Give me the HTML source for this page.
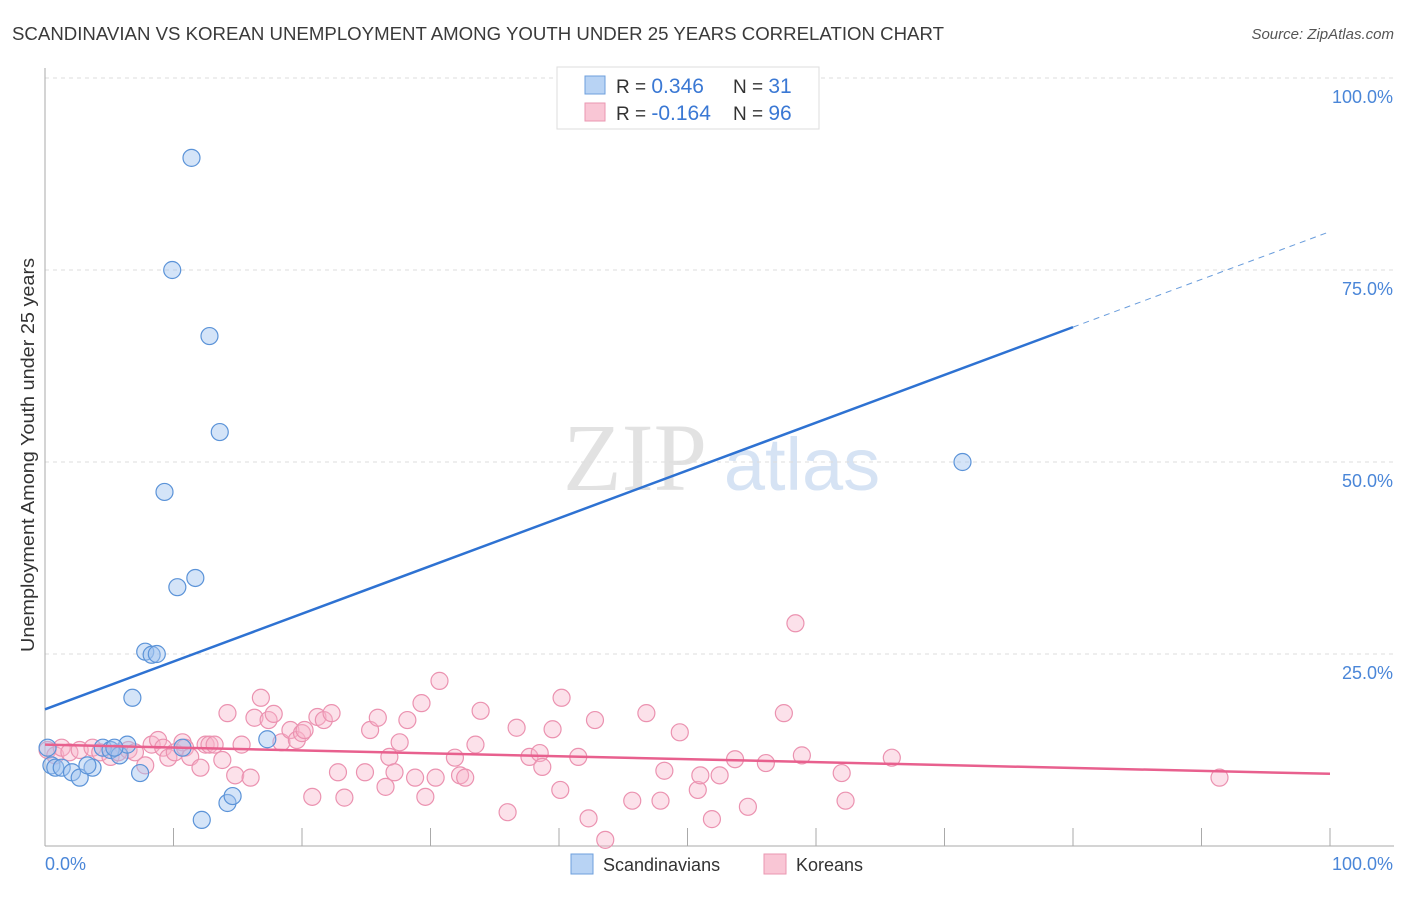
<!DOCTYPE html>
<html><head><meta charset="utf-8"><style>
body{margin:0;background:#fff;font-family:"Liberation Sans",sans-serif}
</style></head><body>
<svg id="chart" width="1406" height="892" xmlns="http://www.w3.org/2000/svg">
<text x="12" y="40" font-size="18" fill="#3a3a3a" textLength="932" lengthAdjust="spacingAndGlyphs">SCANDINAVIAN VS KOREAN UNEMPLOYMENT AMONG YOUTH UNDER 25 YEARS CORRELATION CHART</text>
<text x="1394" y="39" font-size="15" fill="#555" font-style="italic" text-anchor="end">Source: ZipAtlas.com</text>
<text x="635" y="490" font-size="96" fill="#e2e2e2" font-family="Liberation Serif,serif" text-anchor="middle">ZIP</text>
<text x="802" y="490" font-size="74" fill="#d6e3f4" text-anchor="middle">atlas</text>
<g id="grid"></g>
<g id="axes"></g>
<g id="marks"></g>
<text transform="translate(34,455) rotate(-90)" font-size="18" fill="#333" text-anchor="middle" textLength="394" lengthAdjust="spacingAndGlyphs">Unemployment Among Youth under 25 years</text>
<text x="45" y="870" font-size="18" fill="#4a86d8">0.0%</text>
<text x="1393" y="870" font-size="18" fill="#4a86d8" text-anchor="end">100.0%</text>
<g>
<rect x="557" y="67" width="262" height="62" fill="#fff" stroke="#ddd"/>
<rect x="585" y="76" width="20" height="18" fill="#b8d3f4" stroke="#6e9fdc"/>
<rect x="585" y="103" width="20" height="18" fill="#f9c6d5" stroke="#ea97b1"/>
<text x="616" y="93" font-size="19" fill="#333">R = <tspan fill="#3a78d4" font-size="21">0.346</tspan></text>
<text x="733" y="93" font-size="19" fill="#333">N = <tspan fill="#3a78d4" font-size="21">31</tspan></text>
<text x="616" y="120" font-size="19" fill="#333">R = <tspan fill="#3a78d4" font-size="21">-0.164</tspan></text>
<text x="733" y="120" font-size="19" fill="#333">N = <tspan fill="#3a78d4" font-size="21">96</tspan></text>
</g>
<g>
<rect x="571" y="854" width="22" height="20" fill="#b8d3f4" stroke="#6e9fdc"/>
<text x="603" y="871" font-size="18" fill="#333">Scandinavians</text>
<rect x="764" y="854" width="22" height="20" fill="#f9c6d5" stroke="#ea97b1"/>
<text x="796" y="871" font-size="18" fill="#333">Koreans</text>
</g>
</svg>
<script>
const yTicks=[100,75,50,25];
const yTickLabels=["100.0%","75.0%","50.0%","25.0%"];
const xTicks=[10,20,30,40,50,60,70,80,90,100];
const blueX=[11.4,9.9,12.8,13.6,9.3,11.7,10.3,7.8,8.3,8.7,6.8,17.3,10.7,14.2,14.6,12.2,71.4,0.2,0.5,0.8,1.3,2.1,2.7,3.7,3.3,4.5,5.1,5.8,6.4,7.4,5.4];
const blueY=[89.6,75.0,66.4,53.9,46.1,34.9,33.7,25.3,24.9,25.0,19.3,13.9,12.8,5.6,6.5,3.4,50.0,12.8,10.5,10.2,10.2,9.6,8.9,10.2,10.5,12.8,12.5,11.8,13.2,9.5,12.8];
const pinkX=[0.2,0.8,1.3,1.9,2.7,3.7,4.3,5.1,5.7,6.5,7.0,7.8,8.3,8.8,9.2,9.6,10.1,10.7,10.9,11.3,12.1,12.5,12.8,13.2,13.8,14.2,14.8,15.3,16.0,16.3,16.8,17.4,17.8,18.4,19.1,19.6,20.0,20.2,20.8,21.2,21.7,22.3,22.8,23.3,24.9,25.3,25.9,26.5,26.8,27.2,27.6,28.2,28.8,29.3,29.6,30.4,30.7,31.9,32.3,32.7,33.5,33.9,36.0,36.7,37.7,38.5,38.7,39.5,40.1,40.2,41.5,42.3,42.8,43.6,45.7,46.8,47.9,48.2,49.4,50.8,51.0,51.9,52.5,53.7,54.7,56.1,57.5,58.4,58.9,62.0,62.3,65.9,91.4];
const pinkY=[12.5,11.8,12.8,12.2,12.5,12.8,12.2,11.6,12.2,12.5,12.2,10.5,13.2,13.8,12.8,11.5,12.2,13.5,12.8,11.6,10.2,13.2,13.2,13.2,11.2,17.3,9.2,13.2,8.9,16.7,19.3,16.4,17.2,13.5,15.1,13.8,14.7,15.1,6.4,16.8,16.4,17.3,9.6,6.3,9.6,15.1,16.7,7.7,11.6,9.6,13.5,16.4,8.9,18.6,6.4,8.9,21.5,11.5,9.2,8.9,13.2,17.6,4.4,15.4,11.6,12.1,10.3,15.2,7.3,19.3,11.6,3.6,16.4,0.8,5.9,17.3,5.9,9.8,14.8,7.3,9.2,3.5,9.2,11.3,5.1,10.8,17.3,29.0,11.8,9.5,5.9,11.5,8.9];
const blueTrend=[17.8,80.0];
const pinkTrend=[13.2,9.4];
const X0=45,X1=1330,Y0=846,Y100=78;
const sx=v=>X0+(X1-X0)*v/100, sy=v=>Y0-(Y0-Y100)*v/100;
const NS="http://www.w3.org/2000/svg";
function mk(tag,attrs,parent){const e=document.createElementNS(NS,tag);for(const k in attrs)e.setAttribute(k,attrs[k]);parent.appendChild(e);return e;}
const grid=document.getElementById('grid'),axes=document.getElementById('axes'),marks=document.getElementById('marks');
yTicks.forEach((t,i)=>{
 const l=mk('line',{x1:X0,x2:1394,y1:sy(t),y2:sy(t),stroke:'#ddd','stroke-dasharray':'4,4'},grid);
 
 
 const tx=mk('text',{x:1393,y:sy(t)+25,'font-size':18,fill:'#4a86d8','text-anchor':'end'},grid);
 tx.textContent=yTickLabels[i];
 
 
});
const ya=mk('line',{x1:X0,x2:X0,y1:68,y2:Y0,stroke:'#aaa'},axes);


const xa=mk('line',{x1:X0,x2:1394,y1:Y0,y2:Y0,stroke:'#aaa'},axes);


xTicks.forEach(t=>{
 const l=mk('line',{x1:sx(t),x2:sx(t),y1:Y0-18,y2:Y0,stroke:'#aaa'},axes);
 
 
});
pinkX.forEach((x,i)=>{
 const c=mk('circle',{cx:sx(x),cy:sy(pinkY[i]),r:8.5,fill:'rgba(248,180,202,0.4)',stroke:'#eb92b0','stroke-width':1.2},marks);
 
 
});
blueX.forEach((x,i)=>{
 const c=mk('circle',{cx:sx(x),cy:sy(blueY[i]),r:8.5,fill:'rgba(160,196,240,0.45)',stroke:'#5b93d8','stroke-width':1.2},marks);
 
 
});
const bx=80, byAt=v=>blueTrend[0]+(blueTrend[1]-blueTrend[0])*v/100;
const bl=mk('line',{x1:sx(0),y1:sy(byAt(0)),x2:sx(bx),y2:sy(byAt(bx)),stroke:'#2e72d2','stroke-width':2.5},marks);


const bd=mk('line',{x1:sx(bx),y1:sy(byAt(bx)),x2:sx(100),y2:sy(byAt(100)),stroke:'#6a9ddc','stroke-width':1,'stroke-dasharray':'6,5'},marks);


const pl=mk('line',{x1:sx(0),y1:sy(pinkTrend[0]),x2:sx(100),y2:sy(pinkTrend[1]),stroke:'#e8608e','stroke-width':2.5},marks);


</script>
</body></html>
